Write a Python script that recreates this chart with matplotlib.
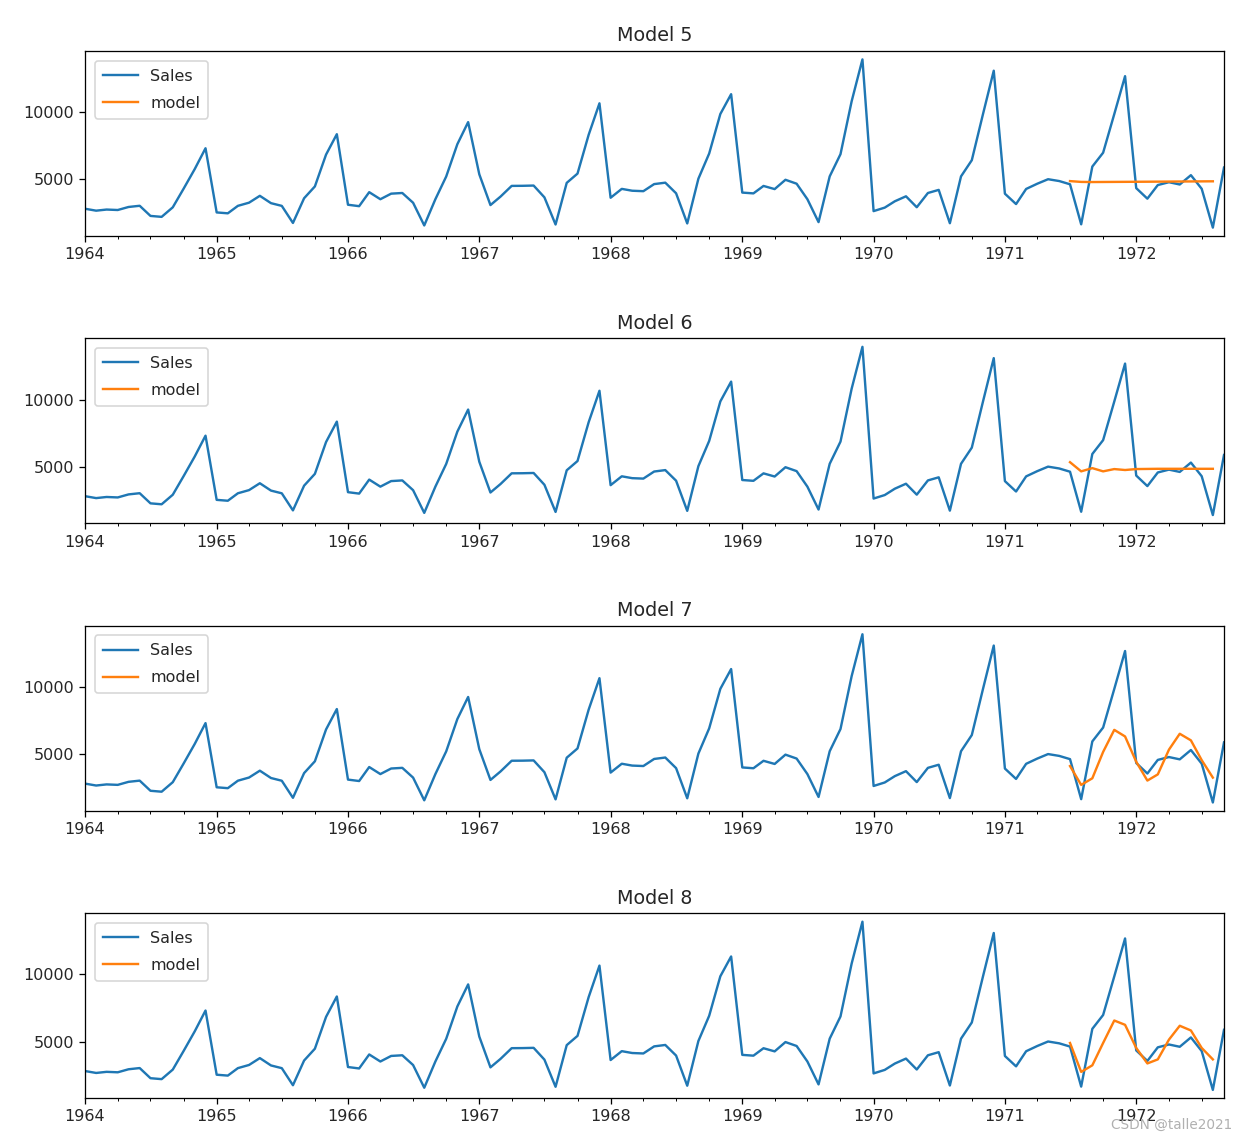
import matplotlib
matplotlib.use("Agg")
import matplotlib.pyplot as plt
import matplotlib.dates as mdates
import pandas as pd
import numpy as np

sales = [2815, 2672, 2755, 2721, 2946, 3036, 2282, 2212, 2922, 4301, 5764, 7312,
         2541, 2475, 3031, 3266, 3776, 3230, 3028, 1759, 3595, 4474, 6838, 8357,
         3113, 3006, 4047, 3523, 3937, 3986, 3260, 1573, 3528, 5211, 7614, 9254,
         5375, 3088, 3718, 4514, 4520, 4539, 3663, 1643, 4739, 5428, 8314, 10651,
         3633, 4292, 4154, 4121, 4647, 4753, 3965, 1723, 5048, 6922, 9858, 11331,
         4016, 3957, 4510, 4276, 4968, 4677, 3523, 1821, 5222, 6872, 10803, 13916,
         2639, 2899, 3370, 3740, 2927, 3986, 4217, 1738, 5221, 6424, 9842, 13076,
         3934, 3162, 4286, 4676, 5010, 4874, 4633, 1659, 5951, 6981, 9851, 12670,
         4348, 3564, 4577, 4788, 4618, 5312, 4298, 1413, 5877]
sales_start = "1964-01-01"
model_start = "1971-07-01"

model5 = [4870, 4810, 4800, 4805, 4810, 4815, 4820, 4825, 4830, 4835, 4840, 4845, 4850, 4855]
model6 = [5340, 4660, 4900, 4660, 4830, 4760, 4830, 4840, 4850, 4850, 4850, 4850, 4850, 4850]
model7 = [4120, 2720, 3210, 5170, 6810, 6320, 4440, 3040, 3500, 5340, 6520, 6030, 4560, 3260]
model8 = [4900, 2750, 3240, 4900, 6570, 6250, 4530, 3380, 3680, 5150, 6180, 5830, 4530, 3680]

titles = ["Model 5", "Model 6", "Model 7", "Model 8"]
models = [model5, model6, model7, model8]

sales_idx = pd.date_range(sales_start, periods=len(sales), freq="MS")
model_idx = pd.date_range(model_start, periods=len(model5), freq="MS")

dpi = 115
fig, axes = plt.subplots(4, 1, figsize=(1248 / dpi, 1140 / dpi), dpi=dpi)
fig.subplots_adjust(left=85 / 1248, right=1224 / 1248, top=1 - 51 / 1140,
                    bottom=1 - 1098.3 / 1140, hspace=102.4 / 185)

text_color = "#262626"
for ax, title, m in zip(axes, titles, models):
    ax.plot(sales_idx, sales, color="#1f77b4", label="Sales")
    ax.plot(model_idx, m, color="#ff7f0e", label="model")
    ax.set_xlim(sales_idx[0], sales_idx[-1])
    ax.set_yticks([5000, 10000])
    ax.xaxis.set_major_locator(mdates.YearLocator())
    ax.xaxis.set_major_formatter(mdates.DateFormatter("%Y"))
    ax.xaxis.set_minor_locator(mdates.MonthLocator(bymonth=[4, 7, 10]))
    for lbl in ax.get_xticklabels():
        lbl.set_rotation(0)
        lbl.set_ha("center")
    ax.tick_params(labelcolor=text_color)
    ax.set_title(title, color=text_color)
    leg = ax.legend(loc="upper left", handlelength=2.2, labelspacing=0.75,
                    borderpad=0.5, borderaxespad=0.6)
    for t in leg.get_texts():
        t.set_color(text_color)

fig.text(1232 / 1248, 1 - 1125 / 1140, "CSDN @talle2021", ha="right", va="center",
         color="#b0b0b0", fontsize=8.5)

fig.savefig("out.png", dpi=dpi)
